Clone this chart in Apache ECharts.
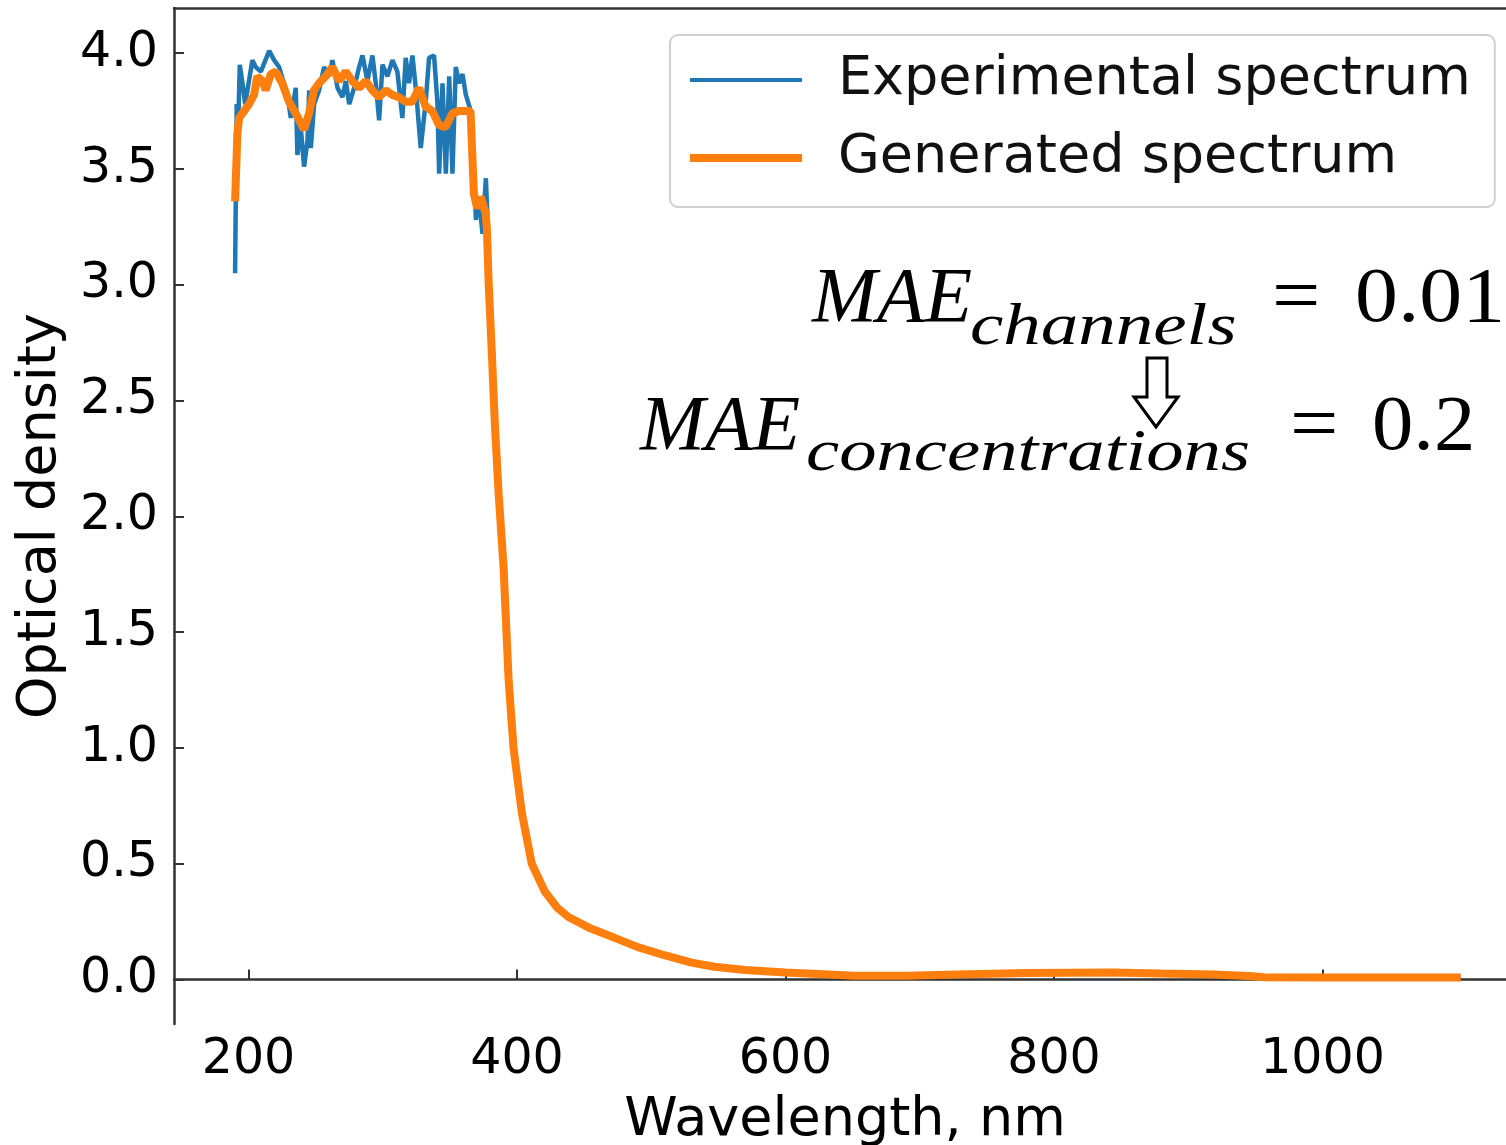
<!DOCTYPE html>
<html><head><meta charset="utf-8">
<script src="https://cdn.jsdelivr.net/npm/echarts@6/dist/echarts.min.js"></script>
<style>html,body{margin:0;padding:0;background:#fff}#c{width:1506px;height:1145px}</style>
</head><body><div id="c"></div>
<script>
// ---- data ----
const seriesNames = ['Experimental spectrum', 'Generated spectrum'];
const xTicks = [200, 400, 600, 800, 1000];
const yTicks = [0, 0.5, 1.0, 1.5, 2.0, 2.5, 3.0, 3.5, 4.0];

// noisy UV part of the experimental spectrum
const expHeadWl = [190.0, 191.2, 192.4, 193.5, 196.0, 197.5, 202.9, 205.4, 209.2, 215.4, 219.1, 222.8, 229.0, 231.5, 235.2, 236.4, 238.9, 241.4, 243.9, 245.2, 246.4, 248.9, 252.6, 256.3, 260.0, 262.5, 266.3, 270.0, 272.5, 275.0, 278.7, 282.4, 284.9, 288.6, 292.3, 294.8, 297.3, 299.8, 303.5, 307.2, 310.9, 314.6, 317.1, 319.6, 322.1, 324.6, 328.3, 332.0, 334.5, 338.2, 340.7, 342.0, 344.5, 347.0, 349.5, 351.9, 354.4, 356.9, 359.4, 361.9, 365.6, 368.1, 369.4, 371.8, 374.3, 376.8, 378.0];
const expHeadOd = [3.05, 3.78, 3.70, 3.95, 3.85, 3.78, 3.97, 3.94, 3.92, 4.01, 3.97, 3.94, 3.82, 3.72, 3.85, 3.56, 3.68, 3.51, 3.62, 3.84, 3.59, 3.78, 3.84, 3.94, 3.90, 3.97, 3.85, 3.81, 3.88, 3.78, 3.85, 3.94, 3.99, 3.88, 3.99, 3.87, 3.71, 3.95, 3.90, 3.97, 3.92, 3.72, 3.98, 3.87, 3.99, 3.85, 3.59, 3.79, 3.98, 3.99, 3.79, 3.48, 3.87, 3.48, 3.90, 3.48, 3.94, 3.87, 3.91, 3.82, 3.75, 3.48, 3.28, 3.37, 3.22, 3.46, 3.29];

// UV part of the generated spectrum
const genHeadWl = [190.0, 191.7, 193.0, 196.7, 200.4, 204.1, 206.6, 210.3, 212.8, 216.6, 220.3, 225.2, 230.2, 235.2, 241.4, 245.1, 248.8, 252.5, 257.5, 262.5, 267.4, 272.4, 277.3, 282.3, 287.3, 292.2, 297.2, 302.2, 307.1, 312.1, 317.0, 322.0, 327.0, 331.9, 336.9, 341.9, 346.8, 351.8, 356.7, 361.7, 365.4, 367.9, 370.4, 372.9, 376.6, 377.6];
const genHeadOd = [3.36, 3.65, 3.72, 3.75, 3.78, 3.82, 3.90, 3.88, 3.84, 3.91, 3.92, 3.87, 3.79, 3.74, 3.67, 3.74, 3.84, 3.87, 3.90, 3.94, 3.88, 3.92, 3.88, 3.85, 3.88, 3.84, 3.81, 3.84, 3.82, 3.81, 3.79, 3.79, 3.85, 3.77, 3.75, 3.69, 3.68, 3.74, 3.75, 3.75, 3.75, 3.39, 3.33, 3.38, 3.31, 3.24];

// common part (both spectra coincide)
const tailWl = [378.8, 381.3, 383.5, 386.3, 390.0, 393.7, 397.4, 403.6, 411.0, 420.7, 430.0, 438.3, 455.0, 472.7, 490.0, 509.8, 530.0, 547.0, 570.0, 600.0, 652.0, 690.0, 728.0, 780.0, 843.0, 880.0, 919.0, 945.0, 957.0, 1000.0, 1050.0, 1103.0];
const tailOd = [3.02, 2.70, 2.40, 2.10, 1.78, 1.30, 1.00, 0.72, 0.50, 0.38, 0.31, 0.27, 0.22, 0.180, 0.14, 0.105, 0.073, 0.055, 0.041, 0.030, 0.016, 0.016, 0.022, 0.028, 0.030, 0.026, 0.022, 0.015, 0.010, 0.009, 0.009, 0.009];

function pairs(w, o) { return w.map((x, i) => [x, o[i]]); }
const expData = pairs(expHeadWl.concat(tailWl), expHeadOd.concat(tailOd));
const genData = pairs(genHeadWl.concat(tailWl), genHeadOd.concat(tailOd));

const FONT = 'DejaVu Sans';
const AXC = '#333';
const BLUE = '#1f77b4', ORANGE = '#ff7f0e';
const chart = echarts.init(document.getElementById('c'), null, {renderer: 'canvas'});

function mathText(x, y, text, size, italic, sx) {
  return {
    type: 'text', x: x, y: y, scaleX: sx || 1, z: 100,
    style: {
      text: text, fill: '#000',
      fontSize: size, fontFamily: 'Liberation Serif', fontStyle: italic ? 'italic' : 'normal',
      align: 'left', verticalAlign: 'middle'
    }
  };
}

chart.setOption({
  animation: false,
  backgroundColor: '#fff',
  grid: {left: 174, top: 8, right: 0, bottom: 121, containLabel: false, outerBoundsMode: 'none'},
  xAxis: [{
    type: 'value', min: 144.5, max: 1136.7, position: 'bottom',
    axisLine: {lineStyle: {color: AXC, width: 2.5}},
    axisTick: {inside: true, length: 10, lineStyle: {color: AXC, width: 2}, customValues: xTicks},
    axisLabel: {customValues: xTicks, fontSize: 49, fontFamily: FONT, color: '#000', margin: 12,
      formatter: v => String(v)},
    splitLine: {show: false},
    name: 'Wavelength, nm', nameLocation: 'middle', nameGap: 70,
    nameTextStyle: {fontSize: 54, fontFamily: FONT, color: '#000', padding: [0, 0, 0, 10]}
  }, {
    type: 'value', min: 144.5, max: 1136.7, position: 'top',
    axisLine: {show: true, lineStyle: {color: AXC, width: 2.5}},
    axisTick: {show: false}, axisLabel: {show: false}, splitLine: {show: false}
  }],
  yAxis: {
    type: 'value', min: -0.192, max: 4.195,
    axisLine: {show: true, lineStyle: {color: AXC, width: 2.5}},
    axisTick: {show: true, inside: true, length: 10, lineStyle: {color: AXC, width: 2}, customValues: yTicks},
    axisLabel: {customValues: yTicks, fontSize: 49, fontFamily: FONT, color: '#000', margin: 16,
      formatter: v => Number(v).toFixed(1)},
    splitLine: {show: false},
    name: 'Optical density', nameLocation: 'middle', nameGap: 106,
    nameTextStyle: {fontSize: 54, fontFamily: FONT, color: '#000'}
  },
  legend: {
    orient: 'vertical', left: 670, top: 35,
    itemWidth: 112, itemHeight: 20, itemGap: 24,
    padding: [18, 24, 22, 16],
    backgroundColor: 'rgba(255,255,255,0.8)', borderColor: '#d0d0d0', borderWidth: 2, borderRadius: 8,
    itemStyle: {opacity: 0},
    textStyle: {fontSize: 54, fontFamily: FONT, color: '#111', padding: [0, 0, 0, 31]},
    data: [
      {name: seriesNames[0], lineStyle: {color: BLUE, width: 4}, itemStyle: {opacity: 0}},
      {name: seriesNames[1], lineStyle: {color: ORANGE, width: 8}, itemStyle: {opacity: 0}}
    ]
  },
  series: [{
    type: 'line', name: seriesNames[0], data: expData, symbol: 'none',
    lineStyle: {color: BLUE, width: 4.5}, itemStyle: {color: BLUE}, z: 2
  }, {
    type: 'line', name: seriesNames[1], data: genData, symbol: 'none',
    lineStyle: {color: ORANGE, width: 8}, itemStyle: {color: ORANGE}, z: 3
  }],
  graphic: [
    mathText(812, 300.7, 'MAE', 78, true),
    mathText(970, 328.5, 'channels', 60, true, 1.25),
    mathText(1272, 300.7, '=', 78, false, 1.1),
    mathText(1355, 300.7, '0.01', 78, false, 1.1),
    {
      type: 'polygon', z: 100,
      shape: {points: [[1147, 358], [1167, 358], [1167, 397], [1178, 397], [1156, 427], [1134, 397], [1147, 397]]},
      style: {fill: '#fff', stroke: '#000', lineWidth: 3}
    },
    mathText(640, 428.7, 'MAE', 78, true),
    mathText(806, 454, 'concentrations', 60, true, 1.245),
    mathText(1290, 428.7, '=', 78, false, 1.1),
    mathText(1372, 428.7, '0.2', 78, false, 1.06)
  ]
});
</script></body></html>
